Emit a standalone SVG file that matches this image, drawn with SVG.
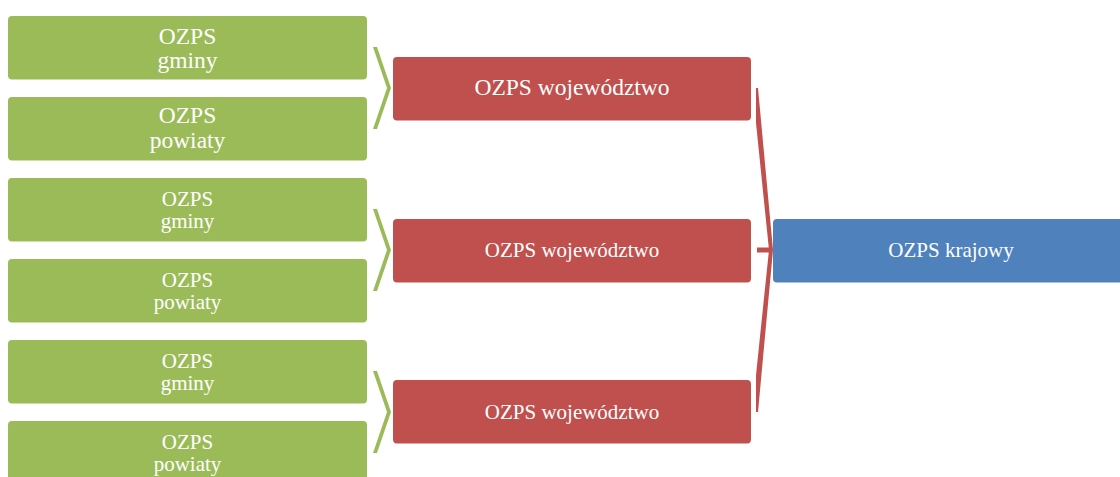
<svg xmlns="http://www.w3.org/2000/svg" width="1120" height="477" viewBox="0 0 1120 477">
<style>
.g{fill:#9BBB59}
.r{fill:#C0504D}
.b{fill:#4F81BD}
text{fill:#fff;text-anchor:middle}
.big{font-size:23.5px}
.sm{font-size:21px}
</style>
<rect width="1120" height="477" fill="#fff"/>
<g id="connectors">
<polygon class="g" points="373,47 377,47 391,88 377,129 373,129 387,88"/>
<polygon class="g" points="373,209 377,209 391,250 377,291 373,291 387,250"/>
<polygon class="g" points="373,371 377,371 391,412 377,453 373,453 387,412"/>
<polygon class="r" points="756,88 758,88 773,250 758,412 756,412 756,375 769,250 756,123"/>
<rect class="r" x="757" y="247.5" width="15" height="5"/>
</g>
<g font-family="'Liberation Serif', 'DejaVu Serif', serif">
<g id="g1"><rect class="g" x="8" y="16" width="359" height="63.5" rx="4"/><text class="big" x="187.5" y="43.5">OZPS</text><text class="big" x="187.5" y="68.3">gminy</text></g>
<g id="p1"><rect class="g" x="8" y="97" width="359" height="63.5" rx="4"/><text class="big" x="187.5" y="123.3">OZPS</text><text class="big" x="187.5" y="148.3">powiaty</text></g>
<g id="g2"><rect class="g" x="8" y="178" width="359" height="63.5" rx="4"/><text class="sm" x="187.5" y="206">OZPS</text><text class="sm" x="187.5" y="228">gminy</text></g>
<g id="p2"><rect class="g" x="8" y="259" width="359" height="63.5" rx="4"/><text class="sm" x="187.5" y="287">OZPS</text><text class="sm" x="187.5" y="309">powiaty</text></g>
<g id="g3"><rect class="g" x="8" y="340" width="359" height="63.5" rx="4"/><text class="sm" x="187.5" y="368">OZPS</text><text class="sm" x="187.5" y="390">gminy</text></g>
<g id="p3"><rect class="g" x="8" y="421" width="359" height="63.5" rx="4"/><text class="sm" x="187.5" y="449">OZPS</text><text class="sm" x="187.5" y="471">powiaty</text></g>
<g id="w1"><rect class="r" x="393" y="57" width="358" height="63.5" rx="4"/><text class="big" x="572" y="95">OZPS województwo</text></g>
<g id="w2"><rect class="r" x="393" y="219" width="358" height="63.5" rx="4"/><text class="sm" x="572" y="257">OZPS województwo</text></g>
<g id="w3"><rect class="r" x="393" y="380" width="358" height="63.5" rx="4"/><text class="sm" x="572" y="419">OZPS województwo</text></g>
<g id="k"><rect class="b" x="773" y="219" width="356" height="63.5" rx="4"/><text class="sm" x="951" y="257">OZPS krajowy</text></g>
</g>
</svg>
